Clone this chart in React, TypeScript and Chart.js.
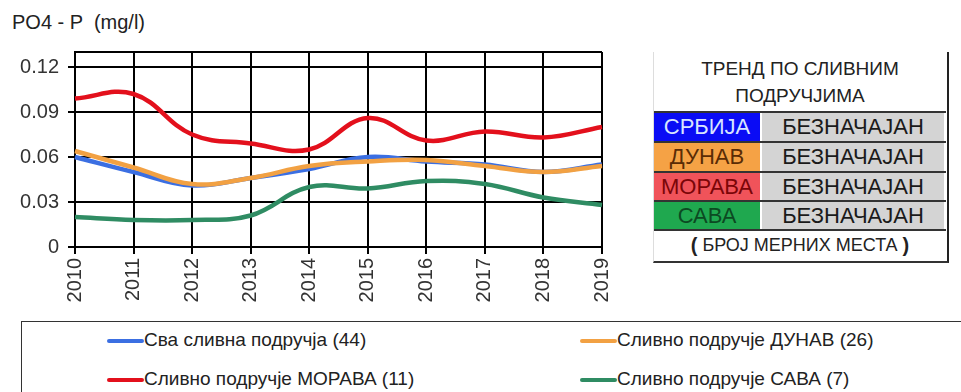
import React, { useEffect, useRef } from "react";
import { Chart, registerables } from "chart.js";

Chart.register(...registerables);

const years = ["2010", "2011", "2012", "2013", "2014", "2015", "2016", "2017", "2018", "2019"];
const allBasins = [0.060, 0.050, 0.041, 0.046, 0.052, 0.060, 0.057, 0.055, 0.050, 0.055];
const danube = [0.064, 0.053, 0.042, 0.046, 0.054, 0.057, 0.058, 0.054, 0.050, 0.054];
const morava = [0.099, 0.102, 0.075, 0.069, 0.065, 0.086, 0.071, 0.077, 0.073, 0.080];
const sava = [0.020, 0.018, 0.018, 0.021, 0.040, 0.039, 0.044, 0.042, 0.033, 0.028];

const seriesNames = [
  "Сва сливна подручја (44)",
  "Сливно подручје ДУНАВ (26)",
  "Сливно подручје МОРАВА (11)",
  "Сливно подручје САВА (7)",
];
const seriesColors = ["#3b6fe2", "#f2a143", "#e3101c", "#2f8c63"];
const seriesOrder = [2, 1, 0, 3];

const yMin = 0;
const yMax = 0.13;
const yTickValues = [0, 0.03, 0.06, 0.09, 0.12, 0.13];

const trendTitle = ["ТРЕНД ПО СЛИВНИМ", "ПОДРУЧЈИМА"];
const trendRegions = ["СРБИЈА", "ДУНАВ", "МОРАВА", "САВА"];
const trendValues = ["БЕЗНАЧАЈАН", "БЕЗНАЧАЈАН", "БЕЗНАЧАЈАН", "БЕЗНАЧАЈАН"];
const trendBg = ["#0a0cf5", "#f5a245", "#f0535a", "#1fa84f"];
const trendFg = ["#d8e4ff", "#5a2c05", "#7a0508", "#0c4a22"];
const trendFooter = "БРОЈ МЕРНИХ МЕСТА";

const FONT = '"Liberation Sans", Arial, sans-serif';
const GRID = "#000000";

export default function App() {
  const canvasRef = useRef<HTMLCanvasElement | null>(null);

  useEffect(() => {
    const canvas = canvasRef.current;
    if (!canvas) return;
    const data = [allBasins, danube, morava, sava];
    const chart = new Chart(canvas, {
      type: "line",
      data: {
        labels: years,
        datasets: data.map((d, i) => ({
          label: seriesNames[i],
          data: d,
          borderColor: seriesColors[i],
          backgroundColor: seriesColors[i],
          borderWidth: 4.5,
          pointRadius: 0,
          tension: 0.4,
          fill: false,
          order: seriesOrder[i],
        })),
      },
      options: {
        animation: false,
        responsive: false,
        maintainAspectRatio: false,
        layout: { padding: { left: 0, top: 52, right: 38, bottom: 0 } },
        plugins: { legend: { display: false }, tooltip: { enabled: false }, title: { display: false } },
        scales: {
          x: {
            type: "category",
            offset: false,
            grid: {
              display: true,
              drawOnChartArea: true,
              drawTicks: true,
              color: GRID,
              lineWidth: 2,
              tickLength: 7,
              tickColor: GRID,
            },
            border: { display: true, color: GRID, width: 2 },
            ticks: {
              minRotation: 90,
              maxRotation: 90,
              padding: 4,
              color: "#333",
              font: { family: FONT, size: 20 },
              autoSkip: false,
            },
            afterFit: (s: any) => {
              s.height = 73;
            },
          },
          y: {
            type: "linear",
            min: yMin,
            max: yMax,
            grid: {
              display: true,
              drawOnChartArea: true,
              drawTicks: true,
              color: GRID,
              lineWidth: 2,
              tickLength: 7,
              tickColor: (ctx: any) => (ctx.tick && ctx.tick.value > 0.125 ? "rgba(0,0,0,0)" : GRID),
            },
            border: { display: true, color: GRID, width: 2 },
            afterBuildTicks: (s: any) => {
              s.ticks = yTickValues.map((v) => ({ value: v }));
            },
            ticks: {
              padding: 9,
              color: "#333",
              font: { family: FONT, size: 20 },
              callback: (v: any) => {
                const n = Number(v);
                if (n > 0.125) return "";
                if (Math.abs(n) < 1e-9) return "0";
                return n.toFixed(2);
              },
            },
            afterFit: (s: any) => {
              s.width = 75;
            },
          },
        },
      },
    });
    return () => chart.destroy();
  }, []);

  const cellBase: React.CSSProperties = {
    position: "absolute",
    display: "flex",
    alignItems: "center",
    justifyContent: "center",
    fontFamily: FONT,
    whiteSpace: "nowrap",
  };

  const rowTops = [111, 141, 171, 200];
  const rowH = [30, 30, 29, 30];

  return (
    <div style={{ position: "fixed", left: 0, top: 0, width: 961, height: 392, background: "#fff", overflow: "hidden" }}>
      <div
        style={{
          position: "absolute",
          left: 12,
          top: 11,
          fontFamily: FONT,
          fontSize: 20,
          color: "#222",
          whiteSpace: "pre",
          lineHeight: "23px",
        }}
      >
        {"PO4 - P  (mg/l)"}
      </div>
      <div style={{ position: "absolute", left: 0, top: 0, width: 640, height: 320 }}>
        <canvas ref={canvasRef} width={640} height={320} style={{ width: 640, height: 320, display: "block" }} />
      </div>

      {/* Trend table */}
      <div style={{ position: "absolute", left: 653, top: 52, width: 293, height: 209, background: "#fff", borderLeft: "1px solid #ddd", borderRight: "2px solid #222", borderBottom: "2px solid #333" }} />
      <div style={{ ...cellBase, left: 654, top: 54, width: 292, height: 56, flexDirection: "column", fontSize: 19, color: "#222", lineHeight: "27px" }}>
        <div>{trendTitle[0]}</div>
        <div>{trendTitle[1]}</div>
      </div>
      {trendRegions.map((r, i) => (
        <React.Fragment key={r}>
          <div style={{ position: "absolute", left: 654, top: rowTops[i], width: 292, height: 2, background: "#333" }} />
          <div style={{ ...cellBase, left: 654, top: rowTops[i] + 2, width: 106, height: rowH[i] - 2, background: trendBg[i], color: trendFg[i], fontSize: 22 }}>
            {r}
          </div>
          <div style={{ ...cellBase, left: 762, top: rowTops[i] + 2, width: 182, height: rowH[i] - 2, background: "#d4d4d4", color: "#1a1a1a", fontSize: 22 }}>
            {trendValues[i]}
          </div>
        </React.Fragment>
      ))}
      <div style={{ position: "absolute", left: 654, top: 229, width: 292, height: 2, background: "#333" }} />
      <div style={{ ...cellBase, left: 654, top: 231, width: 292, height: 29, fontSize: 18, color: "#222" }}>
        <span style={{ fontWeight: "bold", fontSize: 20 }}>(</span>
        <span style={{ margin: "0 5px" }}>{trendFooter}</span>
        <span style={{ fontWeight: "bold", fontSize: 20 }}>)</span>
      </div>

      {/* Legend */}
      <div style={{ position: "absolute", left: 21, top: 321, width: 1000, height: 100, borderTop: "1px solid #333", borderLeft: "1px solid #333" }} />
      {seriesNames.map((name, i) => {
        const col = i % 2;
        const row = Math.floor(i / 2);
        const lx = col === 0 ? 107 : 580;
        const cy = row === 0 ? 341 : 380;
        return (
          <React.Fragment key={name}>
            <div style={{ position: "absolute", left: lx, top: cy - 2, width: 37, height: 4, background: seriesColors[i], borderRadius: 2 }} />
            <div style={{ position: "absolute", left: lx + 37, top: cy - 12, fontFamily: FONT, fontSize: 19, lineHeight: "22px", color: "#222", whiteSpace: "nowrap" }}>
              {name}
            </div>
          </React.Fragment>
        );
      })}
    </div>
  );
}
